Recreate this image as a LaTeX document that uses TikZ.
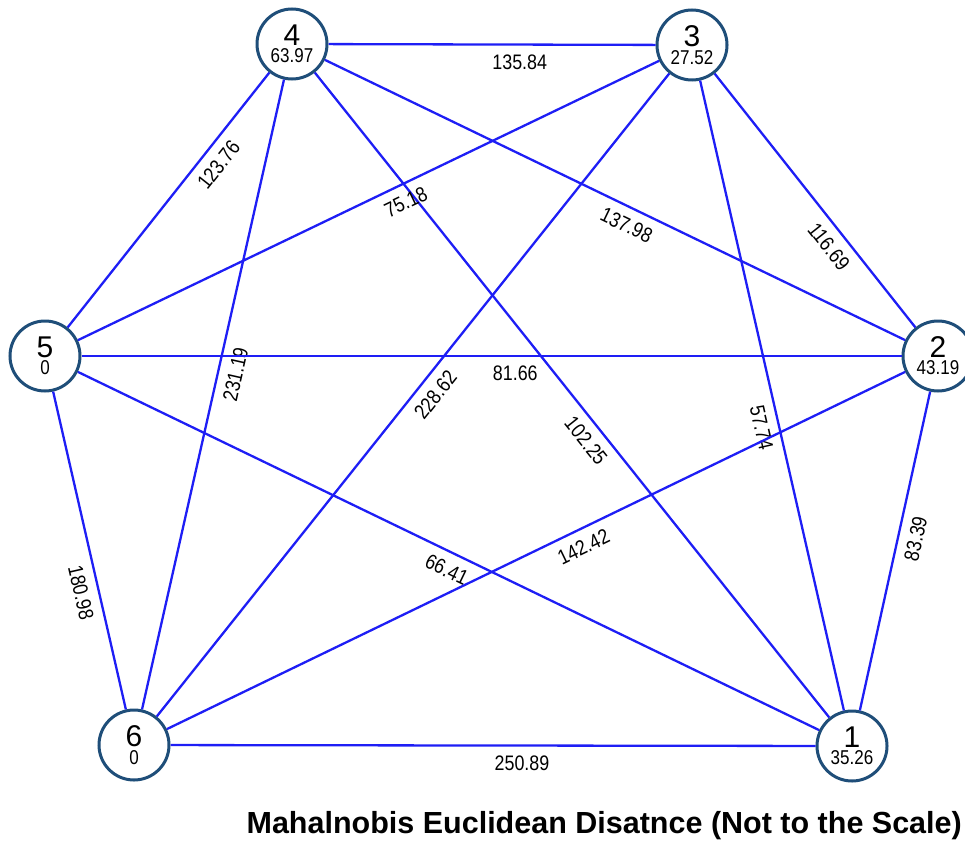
\documentclass[tikz,border=0pt]{standalone}
\usepackage{fontspec}
\setmainfont{Liberation Sans}
\newfontfamily\lblfont[FakeStretch=0.85]{Liberation Sans}
\definecolor{nodeblue}{RGB}{31,78,121}
\definecolor{edgeblue}{RGB}{30,30,245}
\begin{document}
\begin{tikzpicture}[x=1pt,y=-1pt,
  vtx/.style={circle, draw=nodeblue, line width=3pt, fill=white, minimum size=70pt, inner sep=0pt, align=center},
  edge/.style={draw=edgeblue, line width=2.3pt},
  lbl/.style={font=\lblfont\fontsize{21}{21}\selectfont, inner sep=2pt, sloped, text=black},
]
\useasboundingbox (0,0) rectangle (965,845);
% nodes
\node[vtx] (n4) at (292,44) {{\fontsize{30}{25}\selectfont 4}\\[2pt]{\lblfont\fontsize{20}{17}\selectfont 63.97}};
\node[vtx] (n3) at (692,45) {{\fontsize{30}{25}\selectfont 3}\\[2pt]{\lblfont\fontsize{20}{17}\selectfont 27.52}};
\node[vtx] (n5) at (45,356) {{\fontsize{30}{25}\selectfont 5}\\[2pt]{\lblfont\fontsize{20}{17}\selectfont 0}};
\node[vtx] (n2) at (938,356) {{\fontsize{30}{25}\selectfont 2}\\[2pt]{\lblfont\fontsize{20}{17}\selectfont 43.19}};
\node[vtx] (n6) at (134,745) {{\fontsize{30}{25}\selectfont 6}\\[2pt]{\lblfont\fontsize{20}{17}\selectfont 0}};
\node[vtx] (n1) at (852,746) {{\fontsize{30}{25}\selectfont 1}\\[2pt]{\lblfont\fontsize{20}{17}\selectfont 35.26}};
% edges
\begin{scope}[every node/.append style={lbl, below=7pt}]
\draw[edge] (n4) -- node[pos=0.585] {135.84} (n3);
\draw[edge] (n5) -- node[pos=0.68] {123.76} (n4);
\draw[edge] (n6) -- node[pos=0.538] {231.19} (n4);
\draw[edge] (n4) -- node[pos=0.533] {137.98} (n2);
\draw[edge] (n4) -- node[pos=0.554] {102.25} (n1);
\draw[edge] (n5) -- node[pos=0.551] {75.18} (n3);
\draw[edge] (n6) -- node[pos=0.517] {228.62} (n3);
\draw[edge] (n3) -- node[pos=0.638] {116.69} (n2);
\draw[edge] (n3) -- node[pos=0.545] {57.74} (n1);
\draw[edge] (n5) -- node[pos=0.529] {81.66} (n2);
\draw[edge] (n5) -- node[pos=0.62] {180.98} (n6);
\draw[edge] (n5) -- node[pos=0.508] {66.41} (n1);
\draw[edge] (n6) -- node[pos=0.554] {142.42} (n2);
\draw[edge] (n1) -- node[pos=0.55] {83.39} (n2);
\draw[edge] (n6) -- node[pos=0.545] {250.89} (n1);
\end{scope}
% title
\node[anchor=east, font=\bfseries\fontsize{30.5}{30}\selectfont, inner sep=0pt] (title) at (962,826) {Mahalnobis Euclidean Disatnce (Not to the Scale)};
\end{tikzpicture}
\end{document}
